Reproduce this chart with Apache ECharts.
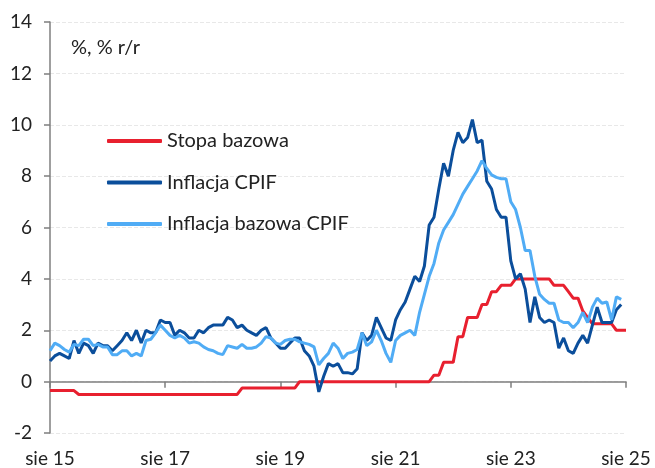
<!DOCTYPE html>
<html>
<head>
<meta charset="utf-8">
<script src="https://cdn.jsdelivr.net/npm/echarts@6/dist/echarts.min.js"></script>
<style>
  html, body { margin: 0; padding: 0; background: #fff; }
  #main { width: 655px; height: 468px; }
</style>
</head>
<body>
<div id="main"></div>
<script>
// miesiące od sie 2015 do sie 2025
var monthNames = ['sty', 'lut', 'mar', 'kwi', 'maj', 'cze', 'lip', 'sie', 'wrz', 'paź', 'lis', 'gru'];
var startYear = 2015, startMonth = 7, monthCount = 121;

var seriesNames = ['Stopa bazowa', 'Inflacja CPIF', 'Inflacja bazowa CPIF'];

// stopa bazowa (koniec miesiąca)
var stopaBazowa = [
  -0.35, -0.35, -0.35, -0.35, -0.35, -0.35,
  -0.5, -0.5, -0.5, -0.5, -0.5, -0.5, -0.5, -0.5, -0.5, -0.5, -0.5, -0.5,
  -0.5, -0.5, -0.5, -0.5, -0.5, -0.5, -0.5, -0.5, -0.5, -0.5, -0.5, -0.5,
  -0.5, -0.5, -0.5, -0.5, -0.5, -0.5, -0.5, -0.5, -0.5, -0.5,
  -0.25, -0.25, -0.25, -0.25, -0.25, -0.25, -0.25, -0.25, -0.25, -0.25, -0.25, -0.25,
  0, 0, 0, 0, 0, 0, 0, 0, 0, 0, 0, 0, 0, 0, 0, 0, 0, 0, 0, 0, 0, 0, 0, 0, 0, 0, 0, 0,
  0.25, 0.25, 0.75, 0.75, 0.75, 1.75, 1.75, 2.5, 2.5, 2.5, 3.0, 3.0, 3.5, 3.5,
  3.75, 3.75, 3.75, 4.0, 4.0, 4.0, 4.0, 4.0, 4.0, 4.0, 4.0,
  3.75, 3.75, 3.75, 3.5, 3.25, 3.25, 2.75, 2.5,
  2.25, 2.25, 2.25, 2.25, 2.25, 2.0, 2.0, 2.0
];

// inflacja CPIF r/r
var inflacjaCPIF = [
  0.8, 1.0, 1.1, 1.0, 0.9, 1.6, 1.1, 1.5, 1.4, 1.1, 1.5, 1.4,
  1.4, 1.2, 1.4, 1.6, 1.9, 1.6, 2.0, 1.5, 2.0, 1.9, 1.9, 2.4,
  2.3, 2.3, 1.8, 2.0, 1.9, 1.7, 1.7, 2.0, 1.9, 2.1, 2.2, 2.2,
  2.2, 2.5, 2.4, 2.1, 2.2, 2.0, 1.9, 1.8, 2.0, 2.1, 1.7, 1.5,
  1.3, 1.3, 1.5, 1.7, 1.7, 1.2, 1.0, 0.6, -0.4, 0.2, 0.7, 0.6,
  0.7, 0.35, 0.35, 0.3, 0.5, 1.9, 1.6, 1.8, 2.5, 2.1, 1.7, 1.6,
  2.4, 2.8, 3.1, 3.6, 4.1, 3.9, 4.5, 6.1, 6.4, 7.5, 8.5, 8.0,
  9.0, 9.7, 9.3, 9.5, 10.2, 9.3, 9.4, 7.8, 7.5, 6.7, 6.4, 6.4,
  4.7, 4.0, 4.2, 3.6, 2.3, 3.3, 2.5, 2.3, 2.4, 2.3, 1.3, 1.7,
  1.2, 1.1, 1.5, 1.8, 1.5, 2.2, 2.9, 2.3, 2.3, 2.3, 2.8, 3.0
];

// inflacja bazowa CPIF r/r
var inflacjaBazowaCPIF = [
  1.2, 1.5, 1.4, 1.25, 1.15, 1.45, 1.4, 1.65, 1.65, 1.4, 1.45, 1.35,
  1.35, 1.05, 1.05, 1.2, 1.2, 1.0, 1.1, 1.0, 1.6, 1.65, 1.9, 2.2,
  2.0, 1.8, 1.7, 1.8, 1.7, 1.5, 1.55, 1.5, 1.35, 1.25, 1.2, 1.1,
  1.05, 1.4, 1.35, 1.3, 1.45, 1.3, 1.3, 1.35, 1.5, 1.75, 1.7, 1.5,
  1.45, 1.6, 1.65, 1.65, 1.55, 1.5, 1.45, 1.35, 0.65, 0.9, 1.1, 1.5,
  1.3, 0.9, 1.1, 1.15, 1.25, 1.9, 1.4, 1.55, 2.0, 1.6, 1.1, 0.75,
  1.6, 1.8, 1.9, 2.0, 1.8, 2.7, 3.4, 4.1, 4.6, 5.4, 5.9, 6.2,
  6.5, 6.9, 7.3, 7.6, 7.9, 8.2, 8.6, 8.3, 8.05, 7.95, 7.9, 7.9,
  7.0, 6.7, 6.0, 5.1, 5.1, 4.1, 3.4, 3.2, 3.05, 3.05, 2.4, 2.3,
  2.3, 2.1, 2.3, 2.7, 2.3, 2.9, 3.25, 3.05, 3.1, 2.4, 3.3, 3.2
];

var yTicks = { min: -2, max: 14, interval: 2 };
var colors = ['#e8202f', '#0b4e9b', '#50acf5'];

var categories = [];
for (var i = 0; i < monthCount; i++) {
  var m = (startMonth + i) % 12;
  var y = startYear + Math.floor((startMonth + i) / 12);
  categories.push(monthNames[m] + ' ' + String(y).slice(2));
}

var font = 'Lato';
var myChart = echarts.init(document.getElementById('main'));

myChart.setOption({
  animation: false,
  color: colors,
  textStyle: { fontFamily: font },
  grid: { left: 50, right: 29, top: 22, bottom: 35, containLabel: false },
  title: {
    text: '%, % r/r',
    left: 66, top: 33,
    textStyle: { fontFamily: font, fontSize: 20, fontWeight: 'normal', color: '#222' }
  },
  legend: {
    orient: 'vertical',
    left: 102, top: 125,
    itemWidth: 55, itemHeight: 4,
    itemGap: 19.5,
    icon: 'roundRect',
    textStyle: { fontFamily: font, fontSize: 20, color: '#222', lineHeight: 22 },
    data: seriesNames
  },
  xAxis: [{
    type: 'category',
    data: categories,
    boundaryGap: false,
    axisLine: { onZero: true, lineStyle: { color: '#7f7f7f', width: 1.5 } },
    axisTick: { show: true, interval: 23, length: 6, lineStyle: { color: '#7f7f7f', width: 1.5 } },
    axisLabel: { show: false },
    splitLine: { show: false }
  }, {
    type: 'category',
    data: categories,
    boundaryGap: false,
    position: 'bottom',
    axisLine: { show: false, onZero: false },
    axisTick: { show: false },
    axisLabel: { show: true, interval: 23, margin: 16, fontFamily: font, fontSize: 19, color: '#222' },
    splitLine: { show: false }
  }],
  yAxis: {
    type: 'value',
    min: yTicks.min, max: yTicks.max, interval: yTicks.interval,
    axisLine: { show: true, lineStyle: { color: '#7f7f7f', width: 1.5 } },
    axisTick: { show: true, length: 6, lineStyle: { color: '#7f7f7f', width: 1.5 } },
    axisLabel: { margin: 18, fontFamily: font, fontSize: 19, color: '#222' },
    splitLine: { show: true, lineStyle: { color: '#e8e8e8', width: 1, type: 'dashed' } }
  },
  series: [{
    name: seriesNames[0], type: 'line', data: stopaBazowa,
    showSymbol: false, lineStyle: { width: 3 }, z: 2
  }, {
    name: seriesNames[1], type: 'line', data: inflacjaCPIF,
    showSymbol: false, lineStyle: { width: 3 }, z: 3
  }, {
    name: seriesNames[2], type: 'line', data: inflacjaBazowaCPIF,
    showSymbol: false, lineStyle: { width: 3 }, z: 4
  }]
});
</script>
</body>
</html>
